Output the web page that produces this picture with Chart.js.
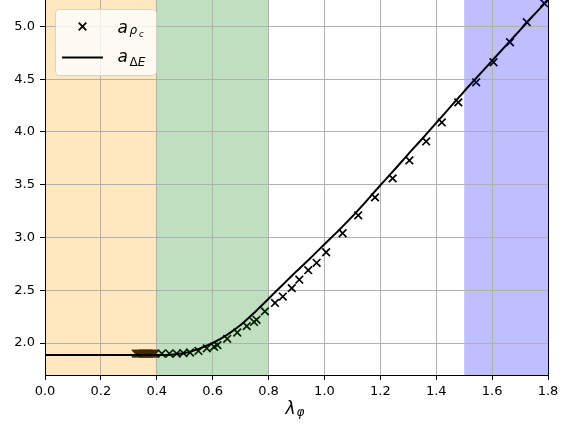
<!DOCTYPE html>
<html><head><meta charset="utf-8">
<script src="https://cdn.jsdelivr.net/npm/chart.js@4/dist/chart.umd.min.js"></script>
<style>html,body{margin:0;padding:0;background:#fff}#wrap{width:579px;height:431px;position:relative}</style>
</head><body><div id="wrap"><canvas id="c" width="579" height="431"></canvas></div>
<script>
// ---- data ----
const xTicks = [0.0, 0.2, 0.4, 0.6, 0.8, 1.0, 1.2, 1.4, 1.6, 1.8];
const yTicks = [2.0, 2.5, 3.0, 3.5, 4.0, 4.5, 5.0];

// a_{rho_c} markers
const rhoX = [0.325, 0.33, 0.335, 0.34, 0.345, 0.35, 0.355, 0.36, 0.365, 0.37, 0.375, 0.38, 0.385, 0.39, 0.395,
              0.418, 0.445, 0.471, 0.495, 0.519, 0.549, 0.579, 0.605, 0.617, 0.652, 0.688, 0.722, 0.748, 0.757, 0.787,
              0.823, 0.851, 0.883, 0.91, 0.942, 0.972, 1.006, 1.065, 1.121, 1.181, 1.244, 1.304, 1.364, 1.42, 1.479,
              1.543, 1.605, 1.664, 1.724, 1.786];
const rhoY = [1.90, 1.90, 1.90, 1.90, 1.90, 1.90, 1.90, 1.90, 1.90, 1.90, 1.90, 1.90, 1.90, 1.90, 1.90,
              1.90, 1.90, 1.90, 1.905, 1.91, 1.925, 1.95, 1.965, 1.98, 2.04, 2.10, 2.16, 2.20, 2.22, 2.30,
              2.38, 2.44, 2.52, 2.60, 2.69, 2.76, 2.86, 3.04, 3.21, 3.38, 3.56, 3.73, 3.91, 4.09, 4.28,
              4.47, 4.66, 4.85, 5.04, 5.22];

// a_{Delta E} curve
const dEX = [0.0, 0.1, 0.2, 0.3, 0.4, 0.45, 0.5, 0.55, 0.6, 0.65, 0.7, 0.75, 0.8, 0.85, 0.9, 0.95, 1.0,
             1.05, 1.1, 1.15, 1.2, 1.25, 1.3, 1.35, 1.4, 1.45, 1.5, 1.55, 1.6, 1.65, 1.7, 1.75, 1.8];
const dEY = [1.886, 1.886, 1.886, 1.886, 1.886, 1.89, 1.905, 1.945, 2.0, 2.075, 2.17, 2.29, 2.42, 2.55, 2.68, 2.805, 2.935,
             3.065, 3.2, 3.345, 3.495, 3.64, 3.79, 3.935, 4.085, 4.235, 4.385, 4.53, 4.675, 4.82, 4.965, 5.11, 5.25];

// shaded regions
const spanStart = [0.0, 0.4, 1.5];
const spanEnd   = [0.4, 0.8, 1.8];

// ---- styles ----
const spanFill   = ['rgba(255,165,0,0.25)', 'rgba(0,128,0,0.25)', 'rgba(0,0,255,0.25)'];
const markerTint = ['rgb(64,41,0)', 'rgb(0,32,0)', 'rgb(0,0,64)'];
const FONT = "'DejaVu Sans', sans-serif";

function markerColor(x) {
  for (let i = 0; i < spanStart.length; i++) {
    if (x >= spanStart[i] && x <= spanEnd[i]) return markerTint[i];
  }
  return '#000';
}

const decor = {
  id: 'decor',
  beforeDraw(chart) {
    const {ctx, chartArea: a, scales: {x}} = chart;
    ctx.save();
    for (let i = 0; i < spanStart.length; i++) {
      const x0 = x.getPixelForValue(spanStart[i]);
      const x1 = x.getPixelForValue(spanEnd[i]);
      ctx.fillStyle = spanFill[i];
      ctx.fillRect(x0, a.top, x1 - x0, a.bottom - a.top);
    }
    ctx.restore();
  },
  afterDraw(chart) {
    const {ctx, chartArea: a} = chart;
    ctx.save();
    // right spine
    ctx.strokeStyle = '#000';
    ctx.lineWidth = 1;
    ctx.beginPath();
    ctx.moveTo(Math.round(a.right) + 0.5, a.top);
    ctx.lineTo(Math.round(a.right) + 0.5, a.bottom);
    ctx.stroke();

    // legend frame
    const lx = 55.5, ly = 9.5, lw = 101, lh = 66, r = 4;
    ctx.beginPath();
    ctx.moveTo(lx + r, ly);
    ctx.lineTo(lx + lw - r, ly);
    ctx.quadraticCurveTo(lx + lw, ly, lx + lw, ly + r);
    ctx.lineTo(lx + lw, ly + lh - r);
    ctx.quadraticCurveTo(lx + lw, ly + lh, lx + lw - r, ly + lh);
    ctx.lineTo(lx + r, ly + lh);
    ctx.quadraticCurveTo(lx, ly + lh, lx, ly + lh - r);
    ctx.lineTo(lx, ly + r);
    ctx.quadraticCurveTo(lx, ly, lx + r, ly);
    ctx.closePath();
    ctx.fillStyle = 'rgba(255,255,255,0.8)';
    ctx.fill();
    ctx.strokeStyle = 'rgba(204,204,204,0.8)';
    ctx.stroke();

    // legend marker (x)
    ctx.strokeStyle = '#000';
    ctx.lineWidth = 1.8;
    const mx = 82.5, my = 26.5, h = 3.8;
    ctx.beginPath();
    ctx.moveTo(mx - h, my - h); ctx.lineTo(mx + h, my + h);
    ctx.moveTo(mx - h, my + h); ctx.lineTo(mx + h, my - h);
    ctx.stroke();
    // legend line
    ctx.lineWidth = 2;
    ctx.beginPath();
    ctx.moveTo(62, 57.5); ctx.lineTo(103, 57.5);
    ctx.stroke();

    // legend texts
    ctx.fillStyle = '#000';
    ctx.textBaseline = 'alphabetic';
    ctx.textAlign = 'left';
    ctx.font = 'italic 17px ' + FONT;
    ctx.fillText('a', 117.5, 33.3);
    ctx.font = 'italic 12px ' + FONT;
    ctx.fillText('ρ', 129.5, 34);
    ctx.font = 'italic 8.5px ' + FONT;
    ctx.fillText('c', 139, 36.7);

    ctx.font = 'italic 17px ' + FONT;
    ctx.fillText('a', 117.5, 61.7);
    ctx.font = '12px ' + FONT;
    ctx.fillText('Δ', 129.5, 66);
    const dw = ctx.measureText('Δ').width;
    ctx.font = 'italic 12px ' + FONT;
    ctx.fillText('E', 129.5 + dw, 66);

    // x axis title
    ctx.font = 'italic 17px ' + FONT;
    ctx.fillText('λ', 285.5, 414.3);
    ctx.font = 'italic 12px ' + FONT;
    ctx.fillText('φ', 296.5, 415.5);
    ctx.restore();
  }
};

const tickFont = {family: FONT, size: 13};

new Chart(document.getElementById('c'), {
  type: 'scatter',
  data: {
    datasets: [
      {
        type: 'line',
        label: 'a_ΔE',
        data: dEX.map((x, i) => ({x, y: dEY[i]})),
        borderColor: '#000',
        borderWidth: 2,
        pointRadius: 0,
        tension: 0.3,
        fill: false
      },
      {
        label: 'a_ρc',
        data: rhoX.map((x, i) => ({x, y: rhoY[i]})),
        pointStyle: 'crossRot',
        pointRadius: 5.4,
        pointBorderWidth: 1.7,
        pointBorderColor: rhoX.map(markerColor),
        pointBackgroundColor: rhoX.map(markerColor),
        showLine: false
      }
    ]
  },
  options: {
    responsive: false,
    devicePixelRatio: 1,
    animation: false,
    layout: {autoPadding: false, padding: {left: 0, right: 31, top: 0, bottom: 0}},
    plugins: {legend: {display: false}, tooltip: {enabled: false}},
    scales: {
      x: {
        type: 'linear', min: 0, max: 1.8,
        afterBuildTicks: s => { s.ticks = xTicks.map(v => ({value: v})); },
        afterFit: s => { s.height = 56; s.paddingLeft = 0; s.paddingRight = 0; },
        ticks: {font: tickFont, color: '#000', padding: 4, maxRotation: 0, autoSkip: false,
                callback: v => Number(v).toFixed(1)},
        grid: {color: '#b0b0b0', lineWidth: 1, tickLength: 5, tickColor: '#000', tickWidth: 1},
        border: {color: '#000', width: 1}
      },
      y: {
        type: 'linear', min: 1.697, max: 5.25,
        afterBuildTicks: s => { s.ticks = yTicks.map(v => ({value: v})); },
        afterFit: s => { s.width = 45; s.paddingTop = 0; s.paddingBottom = 0; },
        ticks: {font: tickFont, color: '#000', padding: 5, autoSkip: false,
                callback: v => Number(v).toFixed(1)},
        grid: {color: '#b0b0b0', lineWidth: 1, tickLength: 5, tickColor: '#000', tickWidth: 1},
        border: {color: '#000', width: 1}
      }
    }
  },
  plugins: [decor]
});
</script>
</body></html>
